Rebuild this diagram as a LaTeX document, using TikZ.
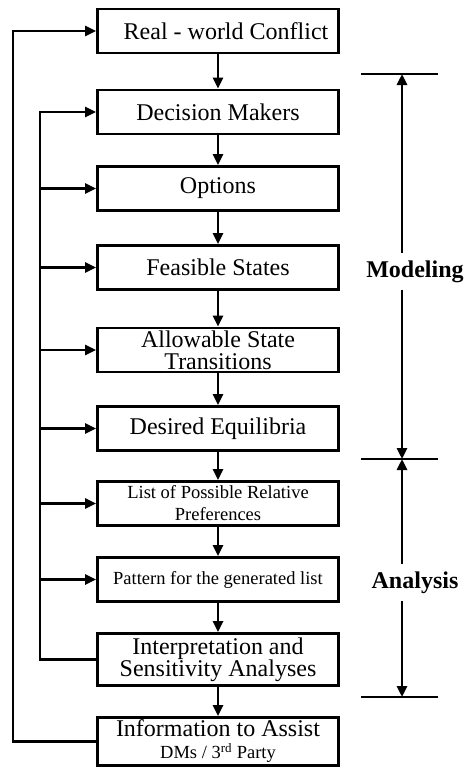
\documentclass[tikz,border=0pt]{standalone}
\usepackage{fontspec}
\setmainfont{Liberation Serif}
\usetikzlibrary{arrows.meta}

\begin{document}
\begin{tikzpicture}[x=1pt, y=-1pt,
    step box/.style={draw, line width=2.8pt, minimum width=241pt, minimum height=44pt,
        inner sep=1pt, align=center, font=\fontsize{24}{22}\selectfont},
    small box/.style={step box, font=\fontsize{18.5}{22}\selectfont},
    line/.style={line width=2.8pt},
    arr/.style={line, -{Triangle[length=11pt, width=10pt]}},
    lab/.style={font=\fontsize{24}{26}\selectfont\bfseries, inner sep=7.5pt, anchor=base}]
    \useasboundingbox (0,0) rectangle (465,768);
    % process steps
    \node[step box] (b1) at (218,31) {\hspace*{16pt}Real - world Conflict};
    \node[step box] (b2) at (218,112) {Decision Makers};
    \node[step box] (b3) at (218,188.5) {Options};
    \node[step box] (b4) at (218,267.5) {Feasible States};
    \node[step box] (b5) at (218,350) {Allowable State\\Transitions};
    \node[step box] (b6) at (218,428.5) {Desired Equilibria};
    \node[small box] (b7) at (218,503.5) {List of Possible Relative\\Preferences};
    \node[small box] (b8) at (218,579.5) {Pattern for the generated list};
    \node[step box, minimum height=52pt] (b9) at (218,659.5) {Interpretation and\\Sensitivity Analyses};
    \node[step box, minimum height=48pt] (b10) at (218,741.5)
        {Information to Assist\\{\fontsize{18.5}{22}\selectfont DMs / 3\textsuperscript{rd} Party}};
    \foreach \a/\b in {b1/b2, b2/b3, b3/b4, b4/b5, b5/b6, b6/b7, b7/b8, b8/b9, b9/b10}
        \draw[arr] (\a) -- (\b);
    % feedback loops
    \coordinate (outer) at (13,0);
    \coordinate (inner) at (40,0);
    \draw[arr] (b10.west) -- (b10.west -| outer) |- (b1.west);
    \draw[arr] (b9.west) -- (b9.west -| inner) |- (b2.west);
    \foreach \n in {b3, b4, b5, b6, b7, b8}
        \draw[arr] (\n.west -| inner) -- (\n.west);
    % stages
    \coordinate (mtop) at (402,74);
    \coordinate (mmid) at (402,459);
    \coordinate (mbot) at (402,697);
    \foreach \c in {mtop, mmid, mbot}
        \draw[line] ([xshift=-41pt]\c) -- ([xshift=36pt]\c);
    \node[lab] (model) at (415,277) {Modeling};
    \node[lab] (analysis) at (415,588) {Analysis};
    \draw[arr] (model.north -| mtop) -- (mtop);
    \draw[arr] (model.south -| mtop) -- (mmid);
    \draw[arr] (analysis.north -| mmid) -- (mmid);
    \draw[arr] (analysis.south -| mbot) -- (mbot);
\end{tikzpicture}
\end{document}
